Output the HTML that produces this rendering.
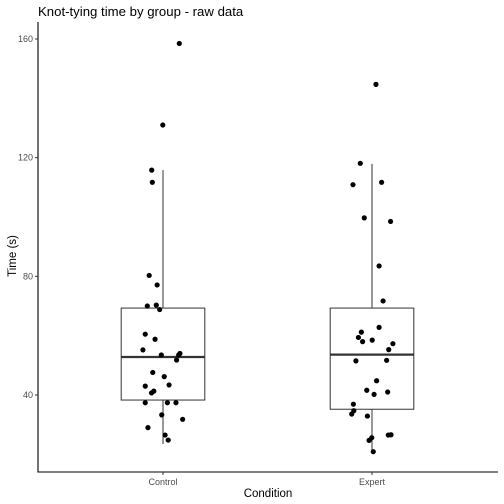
<!DOCTYPE html>
<html><head><meta charset="utf-8"><style>
html,body{margin:0;padding:0;background:#fff;}
svg{display:block;font-family:"Liberation Sans",Arial,sans-serif;}
</style></head><body>
<svg id="chart" width="504" height="504" viewBox="0 0 504 504">
<text x="38" y="16" font-size="13.2" fill="#000">Knot-tying time by group - raw data</text>
<g id="marks"></g>
<text x="268" y="497" font-size="11.5" text-anchor="middle" fill="#000">Condition</text>
<text transform="translate(16,256) rotate(-90)" font-size="11.5" text-anchor="middle" fill="#000">Time (s)</text>
</svg>
<script>
const categories = ["Control", "Expert"];
const yTicks = [40, 80, 120, 160];
const boxQ1 = [38.3, 35.2];
const boxMedian = [52.8, 53.6];
const boxQ3 = [69.3, 69.3];
const whiskerLow = [23.5, 20.9];
const whiskerHigh = [115.8, 117.9];
const controlValues = [158.5,131,115.8,111.7,80.3,77.1,70,70.3,68.8,60.5,58.8,55.2,53.5,54,53.5,51.8,47.6,46.2,43,43.4,41.3,40.7,37.4,37.4,37.4,33.3,31.8,29,26.5,24.8];
const controlJitter = [0.078,-0.001,-0.054,-0.051,-0.066,-0.028,-0.075,-0.032,-0.016,-0.085,-0.038,-0.096,-0.008,0.081,0.075,0.065,-0.049,0.006,-0.085,0.029,-0.044,-0.055,-0.085,0.021,0.062,-0.006,0.094,-0.072,0.01,0.025];
const expertValues = [144.7,118.1,110.9,111.7,99.7,98.5,83.5,71.7,62.8,61.2,59.4,58,58.5,57.3,55.3,51.5,51.7,44.8,41.6,40.2,41,36.9,34.7,33.6,32.9,25.6,24.7,26.5,26.6,20.9];
const expertJitter = [0.019,-0.056,-0.091,0.046,-0.037,0.089,0.034,0.053,0.034,-0.051,-0.065,-0.045,0.001,0.1,0.08,-0.077,0.07,0.022,-0.025,0.01,0.075,-0.089,-0.087,-0.097,-0.022,-0.001,-0.014,0.078,0.091,0.006];

const NS = "http://www.w3.org/2000/svg";
const g = document.getElementById("marks");
const xL = 38, xR = 498, yT = 22, yB = 472;
function xScale(c){ return 163 + (c - 1) * 209; }
function yScale(v){ return 395 - (v - 40) * (356 / 120); }
function mk(tag, attrs){ const e = document.createElementNS(NS, tag); for (const k in attrs) e.setAttribute(k, attrs[k]); g.appendChild(e); return e; }

let ax = mk("line", {x1:xL, y1:yT, x2:xL, y2:yB+0.5, stroke:"#000", "stroke-width":1.1});


ax = mk("line", {x1:xL-0.5, y1:yB, x2:xR, y2:yB, stroke:"#000", "stroke-width":1.1});



yTicks.forEach(t => {
  const y = yScale(t);
  const tk = mk("line", {x1:xL-3, y1:y, x2:xL, y2:y, stroke:"#333", "stroke-width":1});
  
  
  const tl = mk("text", {x:xL-5, y:y+3, "font-size":9, fill:"#4d4d4d", "text-anchor":"end"});
  tl.textContent = t;
  
  
});

categories.forEach((c, i) => {
  const x = xScale(i + 1);
  const tk = mk("line", {x1:x, y1:yB, x2:x, y2:yB+3, stroke:"#333", "stroke-width":1});
  
  
  const tl = mk("text", {x:x, y:yB+13, "font-size":9, fill:"#4d4d4d", "text-anchor":"middle"});
  tl.textContent = c;
  
  

  const hw = 0.2 * 209;
  const w1 = mk("line", {x1:x, y1:yScale(whiskerHigh[i]), x2:x, y2:yScale(boxQ3[i]), stroke:"#333", "stroke-width":1});
  
  
  const w2 = mk("line", {x1:x, y1:yScale(boxQ1[i]), x2:x, y2:yScale(whiskerLow[i]), stroke:"#333", "stroke-width":1});
  
  
  const bx = mk("rect", {x:x-hw, y:yScale(boxQ3[i]), width:2*hw, height:yScale(boxQ1[i])-yScale(boxQ3[i]), fill:"#fff", stroke:"#333", "stroke-width":1});
  
  
  const md = mk("line", {x1:x-hw, y1:yScale(boxMedian[i]), x2:x+hw, y2:yScale(boxMedian[i]), stroke:"#333", "stroke-width":2.2});
  
  
});

function drawPoints(vals, jit, ci){
  vals.forEach((v, j) => {
    const p = mk("circle", {cx:xScale(ci + jit[j]), cy:yScale(v), r:2.6, fill:"#000"});
    
    
  });
}
drawPoints(controlValues, controlJitter, 1);
drawPoints(expertValues, expertJitter, 2);
</script>
</body></html>
